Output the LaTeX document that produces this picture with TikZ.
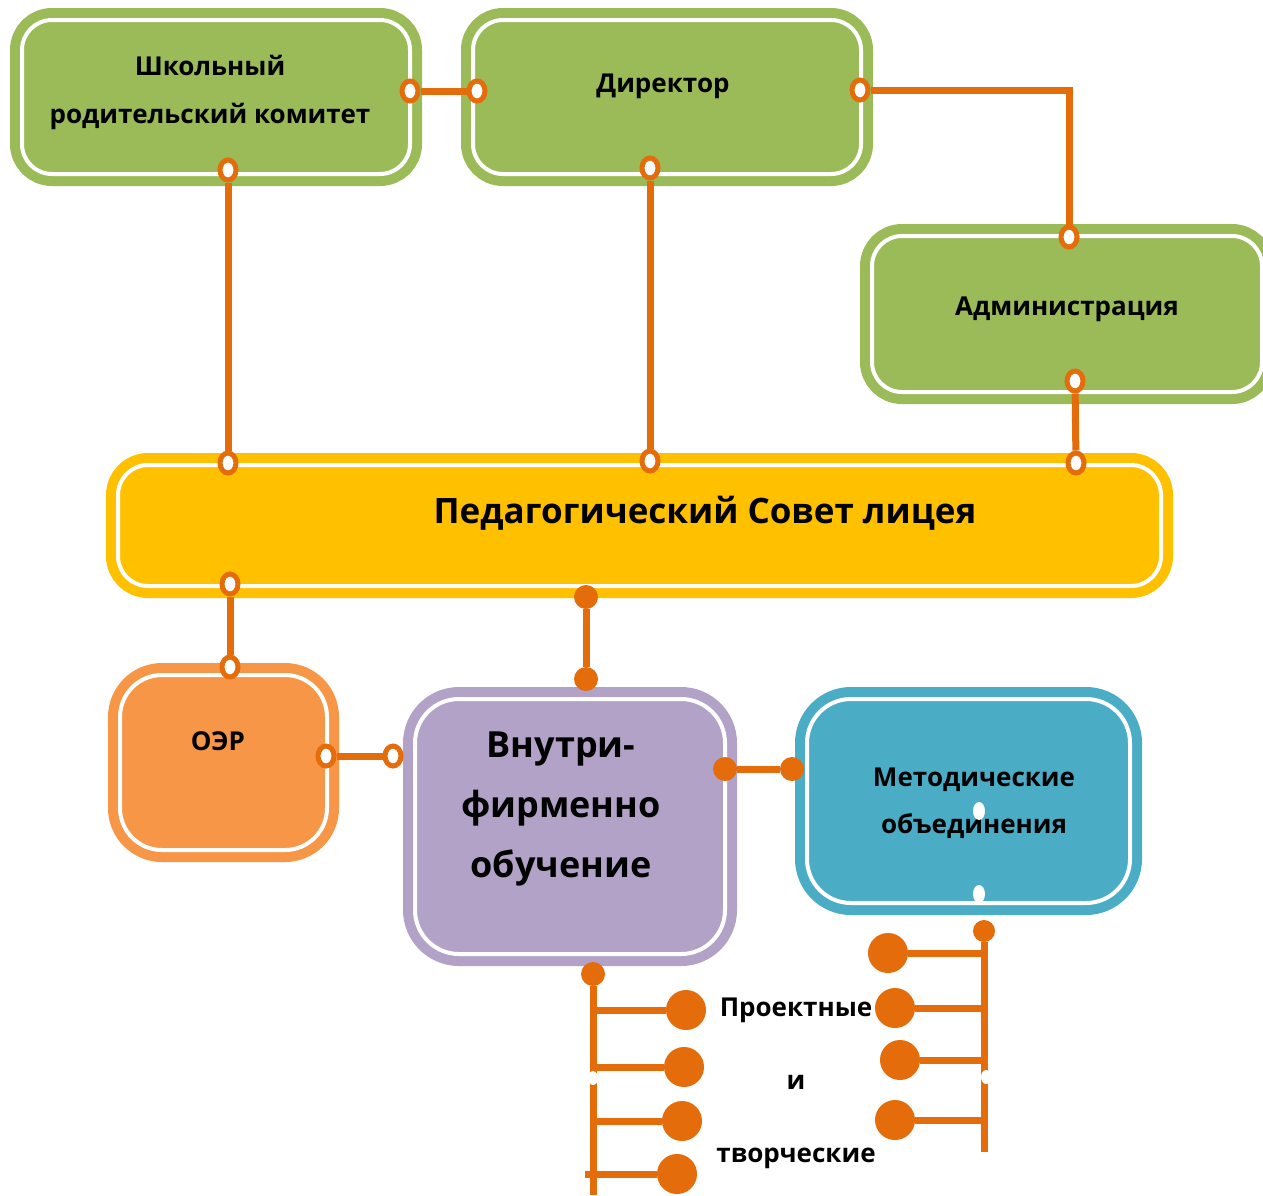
\documentclass[tikz,border=0pt]{standalone}
\usepackage{fontspec}
\setmainfont{Open Sans}
\usetikzlibrary{shapes.geometric}
\definecolor{boxgreen}{HTML}{9BBB59}
\definecolor{boxyellow}{HTML}{FFC000}
\definecolor{boxorange}{HTML}{F79646}
\definecolor{boxviolet}{HTML}{B2A2C7}
\definecolor{boxblue}{HTML}{4BACC6}
\definecolor{linkorange}{HTML}{E46C0A}
\tikzset{
    box/.style = {rectangle, rounded corners = 30pt, fill = #1, draw = white, line width = 4pt,
                  inner sep = 0pt, outer sep = 0pt, preaction = {draw = #1, line width = 24pt}},
    label/.style = {font = \bfseries\fontsize{26}{48}\selectfont, align = center, inner sep = 0pt},
    link/.style = {draw = linkorange, line width = 7pt},
    hollow/.style = {ellipse, draw = linkorange, fill = white, line width = 5pt,
                     minimum width = 16pt, minimum height = 20pt, inner sep = 0pt},
    soliddot/.style = {circle, fill = linkorange, minimum size = 24pt, inner sep = 0pt},
    bigdot/.style = {circle, fill = linkorange, minimum size = 40pt, inner sep = 0pt},
    blank/.style = {ellipse, fill = white, minimum width = 12pt, minimum height = 18pt, inner sep = 0pt}
}
\begin{document}
\begin{tikzpicture}[x = 1pt, y = -1pt]
    \useasboundingbox (0,0) rectangle (1263,1195);
    % boxes
    \node[box = boxgreen, minimum width = 388pt, minimum height = 154pt] (school) at (216,97) {};
    \node[box = boxgreen, minimum width = 388pt, minimum height = 154pt] (director) at (667,97) {};
    \node[box = boxgreen, minimum width = 390pt, minimum height = 156pt] (admin) at (1067,314) {};
    \node[box = boxyellow, minimum width = 1043pt, minimum height = 121pt] (council) at (639.5,525.5) {};
    \node[box = boxorange, rounded corners = 42pt, minimum width = 207pt, minimum height = 175pt] (oer) at (223.5,762.5) {};
    \node[box = boxviolet, rounded corners = 44pt, minimum width = 310pt, minimum height = 255pt] (training) at (570,826.5) {};
    \node[box = boxblue, rounded corners = 44pt, minimum width = 323pt, minimum height = 204pt] (methods) at (968.5,801) {};
    % texts
    \node[label] (schooltext) at (210,92) {Школьный\\родительский комитет};
    \node[label] (directortext) at (663,86) {Директор};
    \node[label] (admintext) at (1067,309) {Администрация};
    \node[label, font = \bfseries\fontsize{35}{40}\selectfont] (counciltext) at (705,513) {Педагогический Совет лицея};
    \node[label] (oertext) at (218,741) {ОЭР};
    \node[label, font = \bfseries\fontsize{36}{60}\selectfont] (trainingtext) at (561,809) {Внутри-\\фирменно\\обучение};
    \node[label, font = \bfseries\fontsize{26}{47}\selectfont] (methodstext) at (974,803) {Методические\\объединения};
    \node[label, font = \bfseries\fontsize{26}{73}\selectfont] (projecttext) at (796,1083) {Проектные\\и\\творческие};
    % connection points
    \node[hollow] (s1) at (410,91) {};
    \node[hollow] (d1) at (477,91) {};
    \node[hollow] (s2) at (228,170) {};
    \node[hollow] (c1) at (228,463) {};
    \node[hollow] (d2) at (650,168) {};
    \node[hollow] (c2) at (650,461) {};
    \node[hollow] (d3) at (860,90) {};
    \node[hollow] (a1) at (1069,237) {};
    \node[hollow] (a2) at (1075,381) {};
    \node[hollow] (c3) at (1076,463) {};
    \node[hollow] (c4) at (230,584) {};
    \node[hollow] (o1) at (230,667) {};
    \node[soliddot] (c5) at (586,597) {};
    \node[soliddot] (t1) at (586,679) {};
    \node[hollow] (o2) at (326,756) {};
    \node[hollow] (t2) at (393,756) {};
    \node[soliddot] (t3) at (725,769) {};
    \node[soliddot] (m1) at (792,769) {};
    \node[blank] (m2) at (979,811) {};
    \node[blank] (m3) at (979,894) {};
    % links
    \draw[link] (s1) -- (d1);
    \draw[link] (s2) -- (c1);
    \draw[link] (d2) -- (c2);
    \draw[link] (d3) -| (a1);
    \draw[link] (a2) -- (c3);
    \draw[link] (c4) -- (o1);
    \draw[link] (c5) -- (t1);
    \draw[link] (o2) -- (t2);
    \draw[link] (t3) -- (m1);
    % combs
    \node[soliddot] (l0) at (593,974) {};
    \coordinate (lend) at (593,1195);
    \draw[link] (l0) -- (lend);
    \foreach \i/\x/\y in {1/686/1010, 2/684/1067, 3/682/1121} {
        \node[bigdot] (lb\i) at (\x,\y) {};
        \draw[link] (l0 |- lb\i) -- (lb\i);
    }
    \node[bigdot] (lb4) at (677,1174) {};
    \draw[link] ([xshift = -8pt]l0 |- lb4) -- (lb4);
    \node[soliddot, minimum size = 22pt] (r0) at (984,931) {};
    \coordinate (rend) at (984,1152);
    \draw[link] (r0) -- (rend);
    \foreach \i/\x/\y in {1/888/953, 2/895/1008, 3/900/1060, 4/895/1120} {
        \node[bigdot] (rb\i) at (\x,\y) {};
        \draw[link] (rb\i) -- (r0 |- rb\i);
    }
    \node[blank, minimum width = 10pt, minimum height = 14pt] (lw) at (593,1078) {};
    \node[blank, minimum width = 10pt, minimum height = 14pt] (rw) at (986,1077) {};
\end{tikzpicture}
\end{document}
